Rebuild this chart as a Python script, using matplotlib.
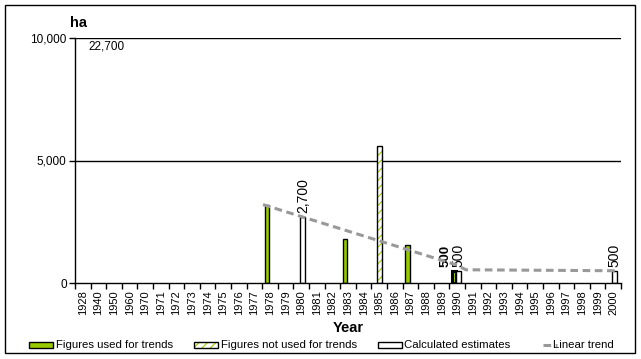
import matplotlib
matplotlib.use("Agg")
import matplotlib.pyplot as plt
from matplotlib.patches import Rectangle
from matplotlib.lines import Line2D
import numpy as np

plt.rcParams['font.family'] = ['Liberation Sans', 'DejaVu Sans']

# ---------------- data ----------------
years = ['1928', '1940', '1950', '1960'] + [str(y) for y in range(1970, 2001)]

used_years = ['1978', '1983', '1987', '1990']
used_values = [3200, 1800, 1550, 500]

notused_years = ['1985']
notused_values = [5600]

calc_years = ['1928', '1980', '1990', '2000']
calc_values = [22700, 2700, 500, 500]

trend_years = ['1978', '1990', '1991', '2000']
trend_values = [3200, 730, 540, 500]

y_ticks = [0, 5000, 10000]
y_max = 10000

# ---------------- style ----------------
GREEN = '#99CC00'
TREND = '#999999'
W, H, DPI = 641, 359, 100
plt.rcParams['hatch.linewidth'] = 0.8

fig = plt.figure(figsize=(W / DPI, H / DPI), dpi=DPI)
ax = fig.add_axes([75 / W, (H - 283) / H, (621 - 75) / W, (283 - 38) / H])

idx = {y: i for i, y in enumerate(years)}
bw = 0.30
off_used, off_not, off_calc = -0.20, 0.0, 0.10

# bars
xu = np.array([idx[y] for y in used_years]) + off_used
lw_used = [1.0, 1.0, 1.0, 2.2]
for x, v, lw in zip(xu, used_values, lw_used):
    ax.bar(x, v, width=bw, color=GREEN, edgecolor='black', linewidth=lw, zorder=3)

xn = np.array([idx[y] for y in notused_years]) + off_not
ax.bar(xn, notused_values, width=bw, color='white', edgecolor=GREEN,
       linewidth=0, hatch='////', zorder=3)
ax.bar(xn, notused_values, width=bw, fill=False, edgecolor='black',
       linewidth=1.0, zorder=3.5)

xc = np.array([idx[y] for y in calc_years]) + off_calc
for x, v in zip(xc, calc_values):
    if v > y_max:
        continue
    ax.bar(x, v, width=bw, color='white', edgecolor='black', linewidth=1.0, zorder=3)

# trend line
trend_shift = [-0.45, 0.0, -0.45, 0.15]
xt = np.array([idx[y] for y in trend_years]) + np.array(trend_shift)
ax.plot(xt, trend_values, color=TREND, linewidth=2.2, linestyle=(0, (2.5, 1.5)),
        zorder=4, solid_capstyle='butt')

# data labels
for x, v in zip(xc, calc_values):
    if v > y_max:
        ax.annotate(f"{v:,}", xy=(x, y_max), xytext=(16, -2), textcoords='offset points',
                    ha='center', va='top', fontsize=8.5)
    else:
        ax.annotate(f"{v:,}", xy=(x, v), xytext=(0, 3), textcoords='offset points',
                    ha='center', va='bottom', rotation=90, fontsize=10)
# bold label of used 1990 value
ax.annotate(f"{used_values[-1]:,}", xy=(xu[-1], used_values[-1]), xytext=(-6.5, 3),
            textcoords='offset points', ha='center', va='bottom', rotation=90,
            fontsize=9.5, fontweight='bold')

# axes
ax.set_xlim(-0.5, len(years) - 0.5)
ax.set_ylim(0, y_max)
ax.set_yticks(y_ticks)
ax.set_yticklabels([f"{t:,}" for t in y_ticks], fontsize=8.5)
ax.set_xticks(np.arange(len(years)))
ax.set_xticklabels(years, rotation=90, fontsize=8)
ax.set_xticks(np.arange(len(years) + 1) - 0.5, minor=True)
ax.tick_params(axis='x', which='major', length=0, pad=5)
ax.tick_params(axis='x', which='minor', length=4, width=1, direction='out', color='black')
ax.tick_params(axis='y', length=4, width=1, direction='out', pad=2)
for t in y_ticks[1:]:
    ax.axhline(t, color='black', linewidth=1.0, zorder=1)
for s in ['top', 'right']:
    ax.spines[s].set_visible(False)
ax.spines['left'].set_linewidth(1.0)
ax.spines['bottom'].set_linewidth(1.0)
ax.spines['left'].set_zorder(5)
ax.spines['bottom'].set_zorder(5)

fig.text(70 / W, 1 - 23 / H, 'ha', fontsize=10.5, fontweight='bold', ha='left', va='center')
fig.text(348 / W, 1 - 328 / H, 'Year', fontsize=10.5, fontweight='bold', ha='center', va='center')

# legend (drawn manually)
ly = 1 - 345 / H
ph = 6 / H
items = [
    (29, 53, [dict(facecolor=GREEN, edgecolor='black', linewidth=1.0)], 'Figures used for trends', 56),
    (194, 218, [dict(facecolor='white', edgecolor=GREEN, hatch='////', linewidth=0),
                dict(fill=False, edgecolor='black', linewidth=1.0)], 'Figures not used for trends', 221),
    (378, 402, [dict(facecolor='white', edgecolor='black', linewidth=1.0)], 'Calculated estimates', 404),
]
for x0, x1, kws, label, tx in items:
    for kw in kws:
        fig.add_artist(Rectangle((x0 / W, ly - ph / 2), (x1 - x0) / W, ph,
                                 transform=fig.transFigure, **kw))
    fig.text(tx / W, ly, label, fontsize=8.2, ha='left', va='center')
fig.add_artist(Line2D([543 / W, 557 / W], [ly, ly], color=TREND, linewidth=2.2,
                      linestyle=(0, (2.5, 1.5)), transform=fig.transFigure))
fig.text(553 / W, ly, 'Linear trend', fontsize=8.2, ha='left', va='center')

# outer border
fig.add_artist(Rectangle((5 / W, 1 - 353 / H), (635 - 5) / W, (353 - 5) / H, fill=False,
                         edgecolor='black', linewidth=1.0, transform=fig.transFigure))

fig.savefig('out.png', dpi=DPI)
